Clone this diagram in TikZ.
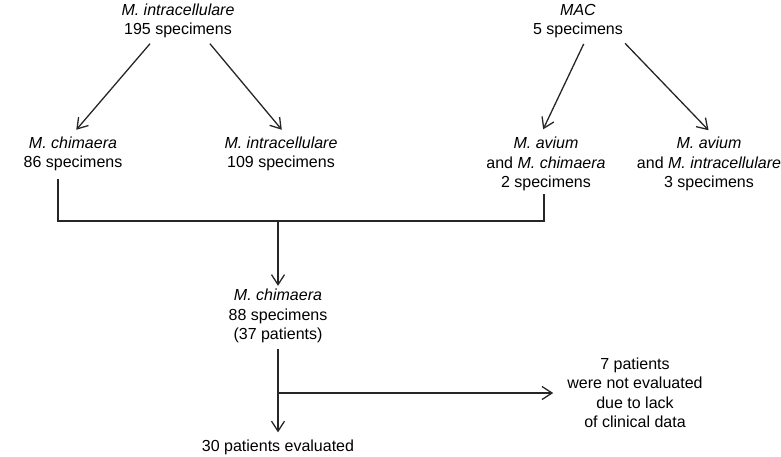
\documentclass[tikz,border=0pt]{standalone}
\usepackage{fontspec}
\setmainfont{Liberation Sans}
\usetikzlibrary{arrows.meta}
\tikzset{
  lbl/.style={align=center, inner sep=3pt, font=\fontsize{16}{19.5}\selectfont},
  conn/.style={line width=1.3pt, draw=black!85},
  arr/.style={conn, -{Straight Barb[length=10pt,width=13pt,line width=1.3pt]}}
}
\begin{document}
\begin{tikzpicture}[x=1pt,y=-1pt]
\useasboundingbox (0,0) rectangle (781,457);
\node[lbl] (mi) at (178,21) {\textit{M. intracellulare}\\195 specimens};
\node[lbl] (mac) at (578,21) {\textit{MAC}\\5 specimens};
\node[lbl] (mc) at (73,154) {\textit{M. chimaera}\\86 specimens};
\node[lbl] (mi2) at (281,154) {\textit{M. intracellulare}\\109 specimens};
\node[lbl] (mavc) at (546,164) {\textit{M. avium}\\and \textit{M. chimaera}\\2 specimens};
\node[lbl] (mavi) at (709,164) {\textit{M. avium}\\and \textit{M. intracellulare}\\3 specimens};
\node[lbl] (mc88) at (278,316) {\textit{M. chimaera}\\88 specimens\\(37 patients)};
\node[lbl] (eval) at (278,447) {30 patients evaluated};
\node[lbl] (notev) at (635,393) {7 patients\\were not evaluated\\due to lack\\of clinical data};
\coordinate (j) at (278,221);
\coordinate (k) at (278,393);
\draw[arr, shorten <=3pt, shorten >=5pt] ([xshift=-26pt]mi.south) -- (mc.north);
\draw[arr, shorten <=3pt, shorten >=5pt] ([xshift=30pt]mi.south) -- ([xshift=4pt]mi2.north);
\draw[arr, shorten <=3pt, shorten >=5pt] ([xshift=7pt]mac.south) -- ([xshift=-5pt]mavc.north);
\draw[arr, shorten <=3pt, shorten >=5pt] ([xshift=45pt]mac.south) -- ([xshift=3pt]mavi.north);
\draw[conn, shorten <=5pt] ([xshift=-15pt]mc.south) |- (j) -| ([xshift=-2pt]mavc.south);
\draw[arr] (j) -- (mc88.north);
\draw[conn, shorten <=3pt] (mc88.south) -- (k);
\draw[arr, shorten >=4pt] (k) -- (eval.north);
\draw[arr, shorten >=11pt] (k) -- (notev.west |- k);
\end{tikzpicture}
\end{document}
